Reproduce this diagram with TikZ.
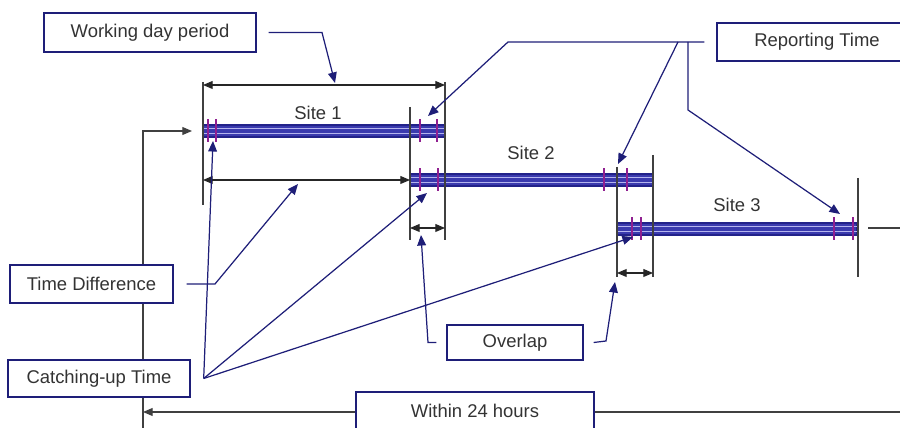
\documentclass[tikz,border=0pt]{standalone}
\usepackage{fontspec}
\setmainfont{Liberation Sans}
\usetikzlibrary{arrows.meta, calc}

\begin{document}
\begin{tikzpicture}[x=0.02cm, y=-0.02cm]
    % Define colours
    \definecolor{lineColour}{HTML}{1E1E78}
    \definecolor{barColour}{HTML}{3A3AAE}
    \definecolor{edgeColour}{HTML}{22228A}
    \definecolor{stripeColour}{HTML}{B4B4EE}
    \definecolor{tickColour}{HTML}{902090}
    \definecolor{textColour}{HTML}{333333}

    \tikzset{
        labelBox/.style={draw=lineColour, line width=0.8pt, fill=white, text=textColour, font=\fontsize{10.5}{12}\selectfont},
        siteLabel/.style={text=textColour, font=\fontsize{10.5}{12}\selectfont},
        pointer/.style={draw=lineColour, line width=0.7pt, -{Triangle[length=6pt,width=5pt]}},
        dimension/.style={draw=black!85, line width=0.6pt, {Triangle[length=5.5pt,width=4.5pt]}-{Triangle[length=5.5pt,width=4.5pt]}},
        boundary/.style={draw=black!75, line width=0.7pt}
    }

    % Fix picture size
    \useasboundingbox (0,0) rectangle (900,428);
    \clip (0,0) rectangle (900,428);

    % Draw 24 hour frame
    \coordinate (frameBottom) at (143,428);
    \coordinate (frameTop) at (143,131);
    \coordinate (frameIn) at (192,131);
    \coordinate (frameRight) at (900,412);
    \coordinate (frameLeft) at (143,412);
    \draw[boundary, -{Triangle[length=5.5pt,width=4.5pt]}] (frameBottom) -- (frameTop) -- (frameIn);
    \draw[boundary, -{Triangle[length=5.5pt,width=4.5pt]}] (frameRight) -- (frameLeft);
    \draw[boundary] (868,228) -- (900,228);

    % Draw site bars
    \foreach \xa/\xb/\yc in {203/445/131, 410/653/180, 617/857/229} {
        \filldraw[fill=barColour, draw=edgeColour, line width=0.6pt] (\xa,\yc-6) rectangle (\xb,\yc+6);
        \draw[stripeColour, line width=0.6pt] (\xa,\yc-2.5) -- (\xb,\yc-2.5) (\xa,\yc+2.5) -- (\xb,\yc+2.5);
    }

    % Draw reporting and catching-up ticks
    \foreach \xt/\yc in {208/131, 216/131, 420/131, 437/131, 420/180, 438/180, 604/180, 627/180, 632/229, 641/229, 834/229, 853/229}
        \draw[tickColour, line width=1.5pt] (\xt,\yc-11.5) -- (\xt,\yc+11.5);

    % Draw boundaries
    \foreach \xv/\ya/\yb in {203/82/205, 445/82/240, 410/107/240, 617/167/277, 653/155/277, 858/178/277}
        \draw[boundary] (\xv,\ya) -- (\xv,\yb);

    % Draw dimension arrows
    \draw[dimension] (203,85) -- (445,85);
    \draw[dimension] (203,180) -- (410,180);
    \draw[dimension] (410,228) -- (445,228);
    \draw[dimension] (617,273) -- (653,273);

    % Label sites
    \node[siteLabel] (site1) at (318,113) {Site 1};
    \node[siteLabel] (site2) at (531,153) {Site 2};
    \node[siteLabel] (site3) at (737,205) {Site 3};

    % Draw label boxes
    \node[labelBox, minimum width=4.24cm, minimum height=0.78cm] (workDay) at (150,32.5) {Working day period};
    \node[labelBox, minimum width=4cm, minimum height=0.76cm] (reporting) at (817,42) {Reporting Time};
    \node[labelBox, minimum width=3.26cm, minimum height=0.76cm] (timeDiff) at (91.5,284) {Time Difference};
    \node[labelBox, minimum width=3.64cm, minimum height=0.74cm] (catchUp) at (99,378.5) {Catching-up Time};
    \node[labelBox, minimum width=2.72cm, minimum height=0.7cm] (overlap) at (515,342.5) {Overlap};
    \node[labelBox, minimum width=4.76cm, minimum height=0.76cm] (within) at (475,411) {Within 24 hours};

    % Define pointer tips
    \coordinate (workDayTip) at (335,83);
    \coordinate (diffTip) at (298,184);
    \coordinate (catchTipA) at (213,141);
    \coordinate (catchTipB) at (427,193);
    \coordinate (catchTipC) at (633,237);
    \coordinate (overlapTipA) at (421,235);
    \coordinate (overlapTipB) at (615,282);
    \coordinate (reportTipA) at (428,116);
    \coordinate (reportTipB) at (618,164);
    \coordinate (reportTipC) at (840,214);

    % Draw pointers
    \draw[pointer, shorten <=0.24cm] (workDay.east) -- (322,32.5) -- (workDayTip);
    \draw[pointer, shorten <=0.26cm] (timeDiff.east) -- (215,284) -- (diffTip);

    \coordinate (catchHub) at ($(catchUp.east)+(13,0)$);
    \foreach \tip in {catchTipA, catchTipB, catchTipC}
        \draw[pointer] (catchHub) -- (\tip);

    \draw[pointer] ($(overlap.west)+(-10,0)$) -- (428,342.5) -- (overlapTipA);
    \draw[pointer] ($(overlap.east)+(10,0)$) -- (606,341) -- (overlapTipB);

    \coordinate (reportHub) at ($(reporting.west)+(-12,0)$);
    \coordinate (reportForkB) at (678,42);
    \coordinate (reportForkC) at (688,42);
    \draw[pointer] (reportHub) -- (508,42) -- (reportTipA);
    \draw[pointer] (reportForkB) -- (reportTipB);
    \draw[pointer] (reportForkC) -- (688,110) -- (reportTipC);
\end{tikzpicture}
\end{document}
